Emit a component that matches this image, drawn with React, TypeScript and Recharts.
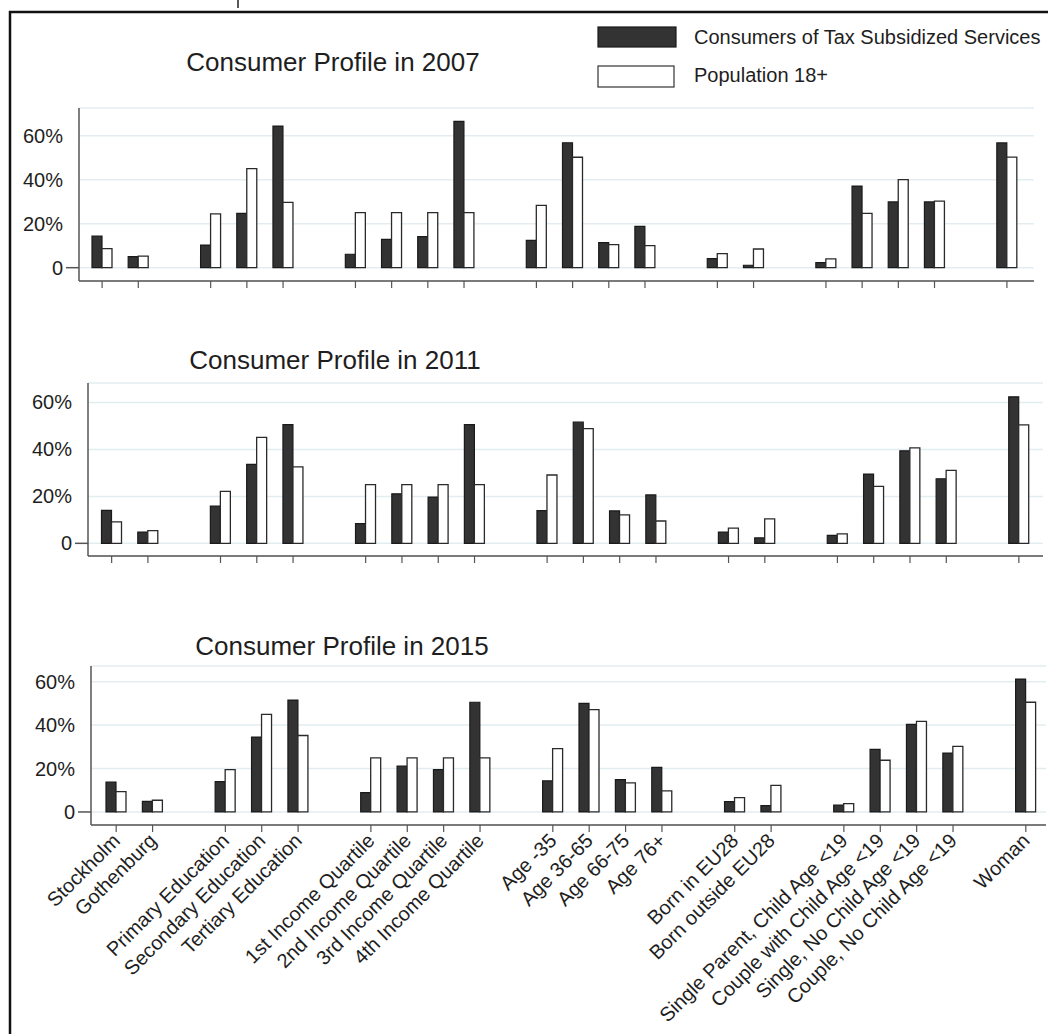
import React from 'react';
import { BarChart, Bar, XAxis, YAxis, CartesianGrid } from 'recharts';

// categories, with empty slots ("gap") between the groups
const categories = [
  'Stockholm', 'Gothenburg', 'gap1',
  'Primary Education', 'Secondary Education', 'Tertiary Education', 'gap2',
  '1st Income Quartile', '2nd Income Quartile', '3rd Income Quartile', '4th Income Quartile', 'gap3',
  'Age -35', 'Age 36-65', 'Age 66-75', 'Age 76+', 'gap4',
  'Born in EU28', 'Born outside EU28', 'gap5',
  'Single Parent, Child Age <19', 'Couple with Child Age <19', 'Single, No Child Age <19', 'Couple, No Child Age <19', 'gap6',
  'Woman',
];

const consumers2007 = [14.4, 5.0, null, 10.3, 24.7, 64.4, null, 6.1, 12.9, 14.1, 66.5, null, 12.4, 56.8, 11.4, 18.8, null, 4.1, 1.1, null, 2.3, 37.1, 29.9, 29.9, null, 56.7];
const population2007 = [8.7, 5.3, null, 24.5, 45.0, 29.7, null, 25, 25, 25, 25, null, 28.3, 50.2, 10.5, 10.0, null, 6.4, 8.5, null, 4.0, 24.7, 40.0, 30.3, null, 50.3];

const consumers2011 = [14.0, 4.8, null, 15.9, 33.6, 50.6, null, 8.4, 21.1, 19.7, 50.6, null, 13.9, 51.6, 13.8, 20.6, null, 4.8, 2.3, null, 3.4, 29.5, 39.4, 27.5, null, 62.4];
const population2011 = [9.1, 5.4, null, 22.1, 45.1, 32.6, null, 25, 25, 25, 25, null, 29.1, 48.9, 12.1, 9.5, null, 6.5, 10.4, null, 4.0, 24.3, 40.7, 31.1, null, 50.5];

const consumers2015 = [13.8, 4.9, null, 14.0, 34.5, 51.5, null, 8.9, 21.1, 19.5, 50.5, null, 14.3, 50.0, 14.9, 20.5, null, 4.8, 2.9, null, 3.2, 28.8, 40.3, 27.1, null, 61.2];
const population2015 = [9.4, 5.4, null, 19.5, 44.9, 35.2, null, 24.9, 24.9, 24.9, 24.9, null, 29.2, 47.1, 13.4, 9.7, null, 6.6, 12.2, null, 3.8, 23.8, 41.7, 30.2, null, 50.5];

const yTicks = [0, 20, 40, 60];
const seriesNames = ['Consumers of Tax Subsidized Services', 'Population 18+'];

const FONT = '"Liberation Sans", Arial, Helvetica, sans-serif';
const TEXT = '#1e1e1e';
const AXIS = '#555';
const GRID = '#e3edf1';
const DARK = '#333333';

const tickNames = categories.filter((c) => !c.startsWith('gap'));

const buildRows = (cons: (number | null)[], pop: (number | null)[]) =>
  categories.map((name, i) => ({ name, consumers: cons[i], population: pop[i] }));

const panels = [
  {
    title: 'Consumer Profile in 2007', titleX: 333, titleY: 71,
    rows: buildRows(consumers2007, population2007),
    left: 79, top: 108, bottom: 281, right: 1034, padL: 5, padR: 9,
    domain: [-6.05, 72.6], labels: false,
  },
  {
    title: 'Consumer Profile in 2011', titleX: 335, titleY: 369,
    rows: buildRows(consumers2011, population2011),
    left: 88, top: 383, bottom: 556, right: 1043, padL: 5.5, padR: 6,
    domain: [-5.4, 68.3], labels: false,
  },
  {
    title: 'Consumer Profile in 2015', titleX: 342, titleY: 655,
    rows: buildRows(consumers2015, population2015),
    left: 91, top: 666, bottom: 825, right: 1046, padL: 7, padR: 2,
    domain: [-6, 67.2], labels: true,
  },
];

const YTick = (props: any) => {
  const { x, y, payload } = props;
  return (
    <g>
      {payload.value === 0 && (
        <line x1={x + 3} x2={x + 16} y1={y} y2={y} stroke={AXIS} strokeWidth={1.5} />
      )}
      <text x={x} y={y} textAnchor="end" dominantBaseline="central" fontSize={20} fill={TEXT} fontFamily={FONT}>
        {payload.value === 0 ? '0' : `${payload.value}%`}
      </text>
    </g>
  );
};

const XLabel = (props: any) => {
  const { x, y, payload } = props;
  return (
    <g transform={`translate(${x + 5},${y + 8}) rotate(-45)`}>
      <text x={0} y={0} textAnchor="end" fontSize={20} fill={TEXT} fontFamily={FONT}>
        {payload.value}
      </text>
    </g>
  );
};

const NoLabel = () => <g />;

function Panel({ p }: { p: (typeof panels)[number] }) {
  const chartTop = p.top - 10;
  const axisH = p.labels ? 208 : 12;
  const height = p.bottom - chartTop + axisH;
  return (
    <div style={{ position: 'absolute', left: 0, top: chartTop }}>
      <BarChart
        width={1048}
        height={height}
        data={p.rows}
        margin={{ top: 10, right: 1048 - p.right, bottom: 0, left: 0 }}
        barGap={0}
      >
        <CartesianGrid vertical={false} stroke={GRID} strokeWidth={1.5} />
        <XAxis
          dataKey="name"
          type="category"
          ticks={tickNames}
          interval={0}
          height={axisH}
          padding={{ left: p.padL, right: p.padR }}
          axisLine={{ stroke: AXIS, strokeWidth: 1.5 }}
          tickLine={{ stroke: AXIS, strokeWidth: 1.2 }}
          tickSize={7}
          tick={p.labels ? <XLabel /> : <NoLabel />}
        />
        <YAxis
          width={p.left}
          type="number"
          domain={p.domain}
          allowDataOverflow
          ticks={yTicks}
          axisLine={{ stroke: AXIS, strokeWidth: 1.5 }}
          tickLine={false}
          tickSize={0}
          tickMargin={16}
          tick={<YTick />}
        />
        <Bar dataKey="consumers" name={seriesNames[0]} fill={DARK} stroke="#1a1a1a" strokeWidth={1.2} barSize={10} isAnimationActive={false} />
        <Bar dataKey="population" name={seriesNames[1]} fill="#ffffff" stroke="#2a2a2a" strokeWidth={1.3} barSize={10} isAnimationActive={false} />
      </BarChart>
    </div>
  );
}

export default function App() {
  return (
    <div style={{ position: 'absolute', left: 0, top: 0, width: 1048, height: 1034, background: '#fff', overflow: 'hidden', fontFamily: FONT }}>
      <svg width={1048} height={1034} style={{ position: 'absolute', left: 0, top: 0 }}>
        {/* outer frame */}
        <line x1={10} x2={10} y1={11} y2={1034} stroke="#111" strokeWidth={2.5} />
        <line x1={9} x2={1048} y1={12} y2={12} stroke="#111" strokeWidth={2.5} />
        <line x1={238} x2={238} y1={0} y2={8} stroke="#222" strokeWidth={1.5} />
        {panels.map((p) => (
          <text key={p.title} x={p.titleX} y={p.titleY} textAnchor="middle" fontSize={26} fill={TEXT} fontFamily={FONT}>
            {p.title}
          </text>
        ))}
        {/* legend */}
        <rect x={598} y={27} width={78} height={20} fill={DARK} stroke="#1a1a1a" strokeWidth={1.2} />
        <text x={694} y={44} fontSize={20} fill={TEXT} fontFamily={FONT}>{seriesNames[0]}</text>
        <rect x={598} y={66} width={76} height={21} fill="#fff" stroke="#333" strokeWidth={1.2} />
        <text x={694} y={82} fontSize={20} fill={TEXT} fontFamily={FONT}>{seriesNames[1]}</text>
      </svg>
      {panels.map((p) => (
        <Panel key={p.title} p={p} />
      ))}
    </div>
  );
}
